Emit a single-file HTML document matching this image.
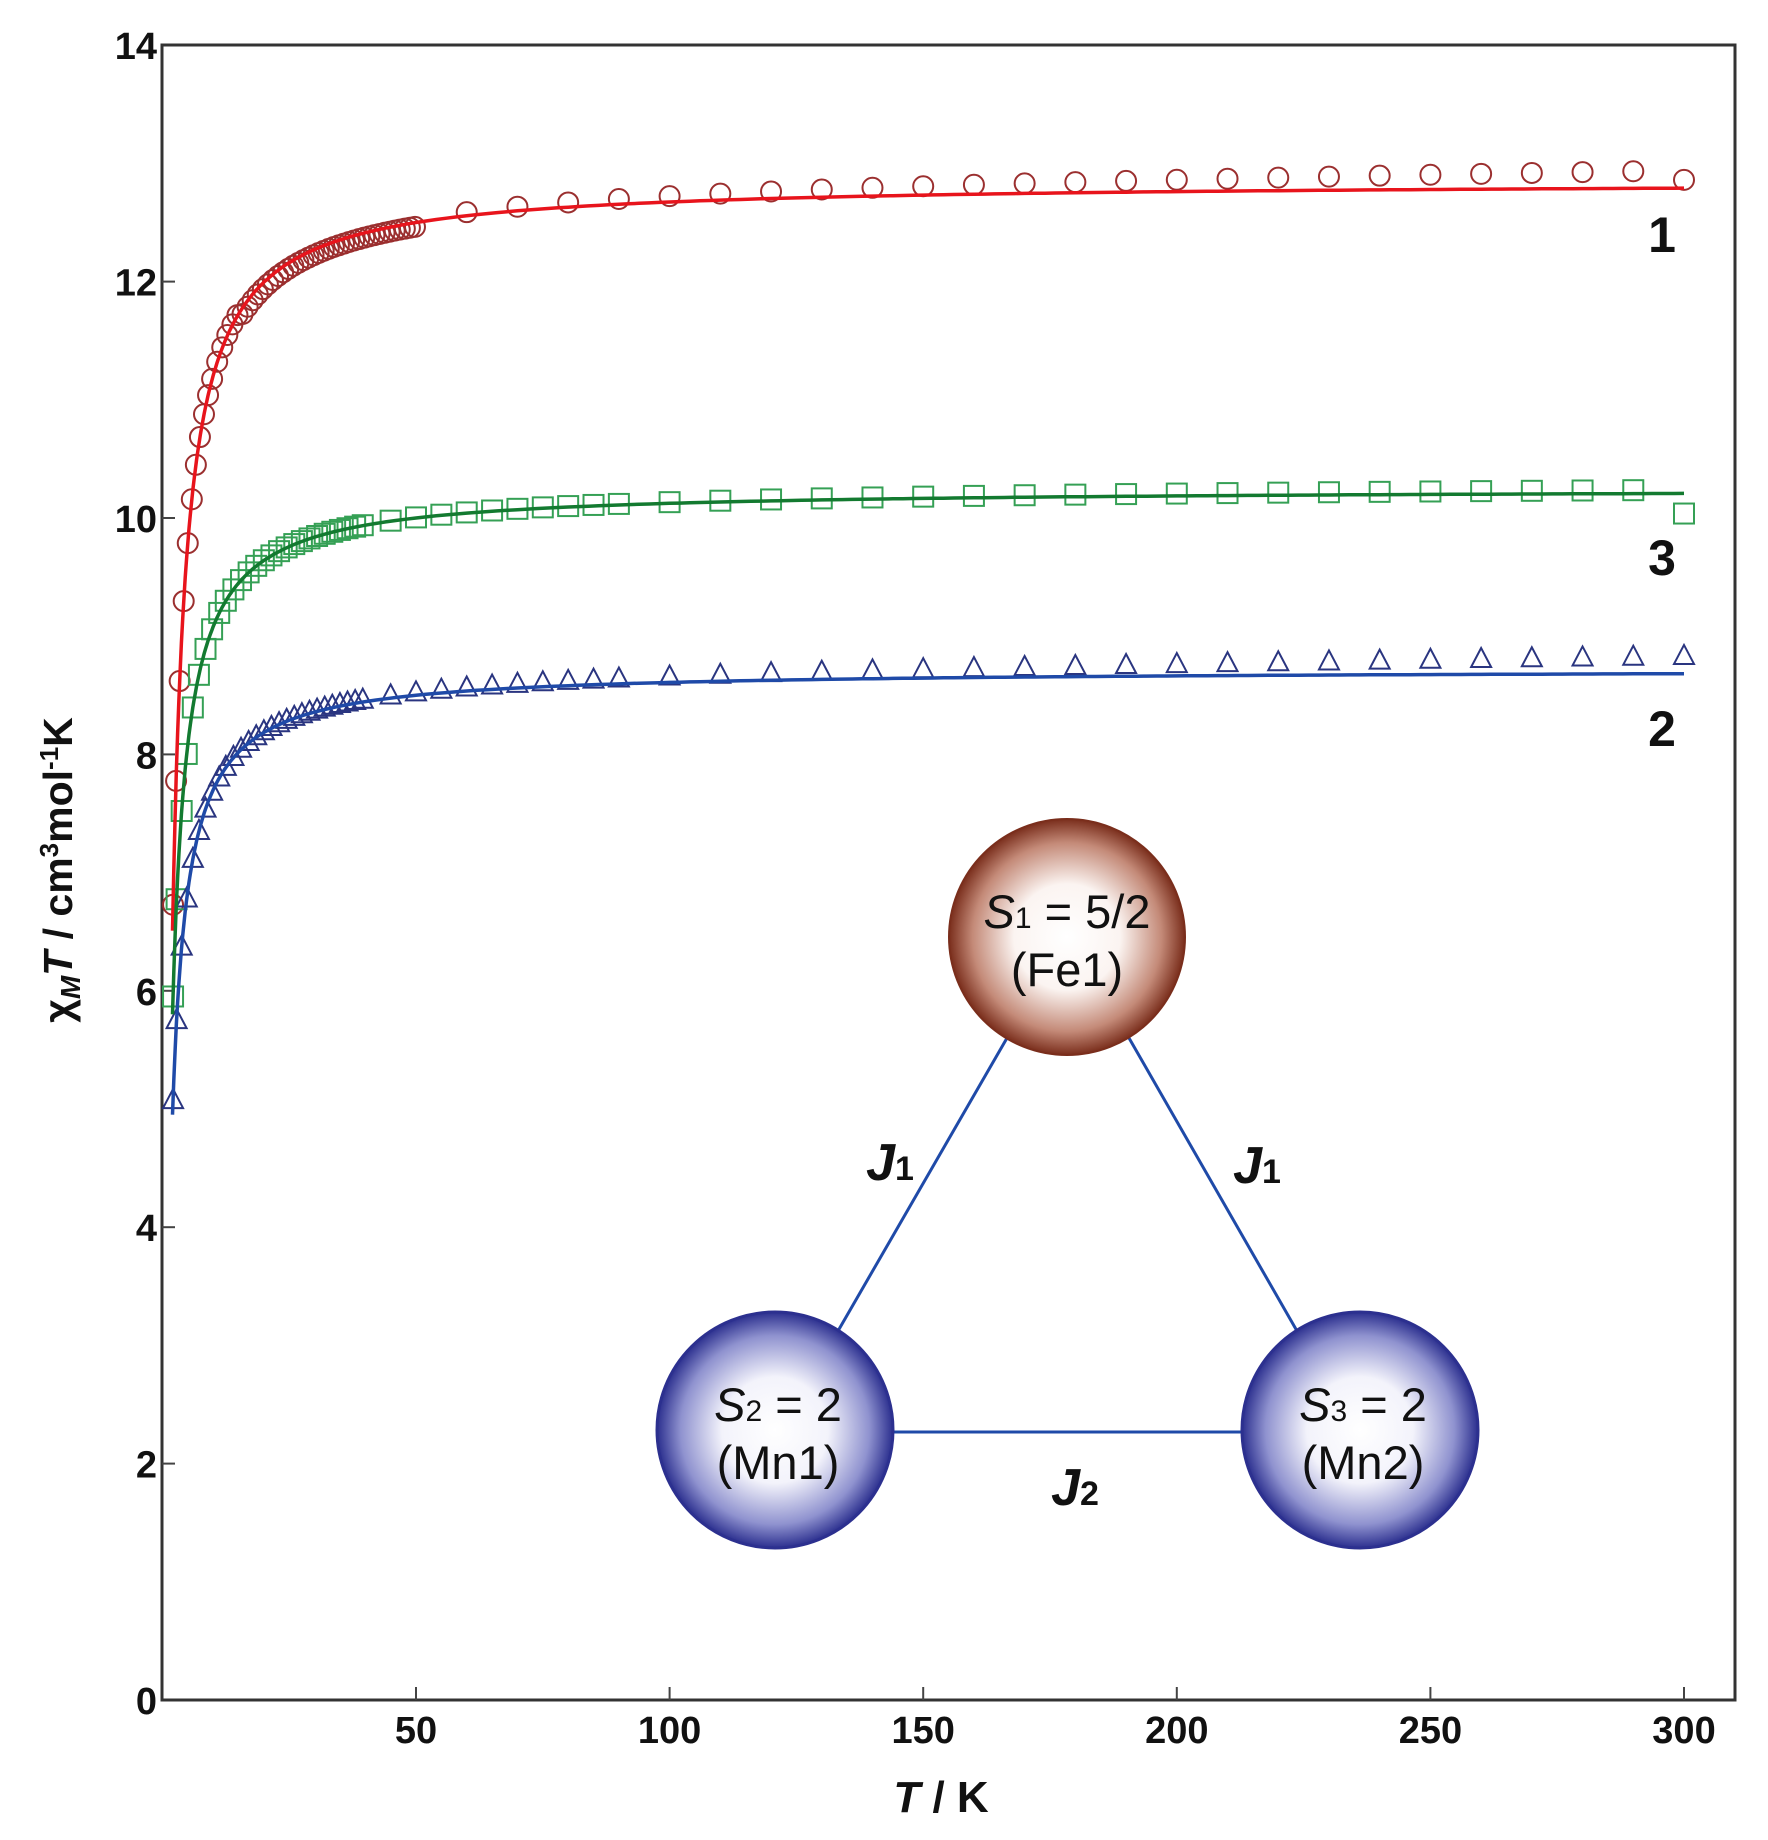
<!DOCTYPE html>
<html><head><meta charset="utf-8"><style>
html,body{margin:0;padding:0;background:#fff;}
svg{display:block;font-family:"Liberation Sans",Arial,sans-serif;}
</style></head><body>
<svg id="s" width="1768" height="1840" viewBox="0 0 1768 1840" xmlns="http://www.w3.org/2000/svg">
<defs>
<radialGradient id="gFe" cx="50%" cy="50%" r="50%">
<stop offset="0" stop-color="#fff"/><stop offset="0.45" stop-color="#fbf4f1"/><stop offset="0.8" stop-color="#c48a78"/><stop offset="1" stop-color="#7a2e1c"/>
</radialGradient>
<radialGradient id="gMn" cx="50%" cy="50%" r="50%">
<stop offset="0" stop-color="#fff"/><stop offset="0.45" stop-color="#f3f3fb"/><stop offset="0.8" stop-color="#8f92cf"/><stop offset="1" stop-color="#2c308f"/>
</radialGradient>
</defs>
<rect x="162" y="45" width="1573" height="1655" fill="none" stroke="#333" stroke-width="3"/>
<g id="ticks" stroke="#444" stroke-width="2"></g>
<g id="labels" font-weight="bold" font-size="38" fill="#111"></g>
<g id="data"></g>
<!-- inset -->
<g stroke="#1f4aa8" stroke-width="3">
<line x1="1007" y1="1038" x2="838" y2="1331"/>
<line x1="1129" y1="1038" x2="1297" y2="1331"/>
<line x1="893" y1="1432" x2="1242" y2="1432"/>
</g>
<circle cx="1067" cy="937" r="118" fill="url(#gFe)" stroke="#7a2e1c" stroke-width="2"/>
<circle cx="775" cy="1430" r="118" fill="url(#gMn)" stroke="#2c308f" stroke-width="3"/>
<circle cx="1360" cy="1430" r="118" fill="url(#gMn)" stroke="#2c308f" stroke-width="3"/>
<g font-size="47" fill="#111" text-anchor="middle">
<text x="1067" y="928"><tspan font-style="italic">S</tspan><tspan font-size="30">1</tspan> = 5/2</text>
<text x="1067" y="986">(Fe1)</text>
<text x="778" y="1421"><tspan font-style="italic">S</tspan><tspan font-size="30">2</tspan> = 2</text>
<text x="778" y="1479">(Mn1)</text>
<text x="1363" y="1421"><tspan font-style="italic">S</tspan><tspan font-size="30">3</tspan> = 2</text>
<text x="1363" y="1479">(Mn2)</text>
</g>
<g font-size="52" font-weight="bold" fill="#111" text-anchor="middle">
<text x="890" y="1180" font-style="italic">J<tspan font-style="normal" font-size="34">1</tspan></text>
<text x="1257" y="1183" font-style="italic">J<tspan font-style="normal" font-size="34">1</tspan></text>
<text x="1075" y="1505" font-style="italic">J<tspan font-style="normal" font-size="34">2</tspan></text>
</g>
<g font-size="50" font-weight="bold" fill="#111" text-anchor="middle">
<text x="1662" y="252">1</text>
<text x="1662" y="575">3</text>
<text x="1662" y="746">2</text>
</g>
<text x="941" y="1812" text-anchor="middle" font-size="44" font-weight="bold" fill="#111"><tspan font-style="italic">T</tspan> / K</text>
<text transform="translate(72,870) rotate(-90)" text-anchor="middle" font-size="41" font-weight="bold" fill="#111">χ<tspan font-style="italic" font-size="28" dy="8">M</tspan><tspan font-style="italic" dy="-8">T</tspan> / cm<tspan font-size="26" dy="-14">3</tspan><tspan dy="14">mol</tspan><tspan font-size="26" dy="-14">-1</tspan><tspan dy="14">K</tspan></text>
</svg>
<script>
var NS="http://www.w3.org/2000/svg";
function X(T){return 162.4+5.072*T;}
function Y(v){return 1700-118.2*v;}
function el(p,tag,a,txt){var e=document.createElementNS(NS,tag);for(var k in a)e.setAttribute(k,a[k]);if(txt!==undefined)e.textContent=txt;p.appendChild(e);return e;}
var tk=document.getElementById('ticks'),lb=document.getElementById('labels'),dg=document.getElementById('data');
for(var v=2;v<=12;v+=2){el(tk,'line',{x1:162,y1:Y(v),x2:175,y2:Y(v)});}
for(var v=0;v<=14;v+=2){el(lb,'text',{x:157,y:Y(v)+14,'text-anchor':'end'},String(v));}
for(var T=50;T<=300;T+=50){el(tk,'line',{x1:X(T),y1:1700,x2:X(T),y2:1687});el(lb,'text',{x:X(T),y:1743,'text-anchor':'middle'},String(T));}
var S=[
 {A:12.85,k:17.8,c:0.807,line:'#e8141c',mk:'#9b2f2f',type:'c',off:0.0005,last:-0.08},
 {A:10.25,k:12.71,c:0.857,line:'#137a30',mk:'#35a055',type:'s',off:0.0001,last:-0.2},
 {A:8.72,k:11.21,c:0.975,line:'#1f4aa8',mk:'#2a3580',type:'t',off:0.0005,last:0}
];
S.forEach(function(s){
 var f=function(T){return s.A-s.k/(T+s.c);};
 var d='';for(var T=2;T<=300;T+=(T<20?0.25:2)){d+=(d?'L':'M')+X(T).toFixed(1)+','+Y(f(T)).toFixed(1);}
 var Ts=[];
 if(s.type=='c'){Ts=[2.1,2.7,3.4,4.2,5,5.8,6.6,7.4,8.2,9,9.8];for(var t=10.8;t<=50;t+=1)Ts.push(t);for(var t=60;t<=300;t+=10)Ts.push(t);}
 else{Ts=[2.1,2.8,3.8,4.8,6,7.2,8.5,9.8,11.2];for(var t=12.5;t<=40;t+=1.5)Ts.push(t);for(var t=45;t<=90;t+=5)Ts.push(t);for(var t=100;t<=300;t+=10)Ts.push(t);}
 Ts.forEach(function(T,i){
  var v=f(T)+s.off*T; if(s.type=='c'&&T>15&&T<=50)v-=0.06; if(i==Ts.length-1)v+=s.last;
  var x=X(T),y=Y(v);
  if(s.type=='c')el(dg,'circle',{cx:x,cy:y,r:10,fill:'none',stroke:s.mk,'stroke-width':2});
  else if(s.type=='s')el(dg,'rect',{x:x-10,y:y-10,width:20,height:20,fill:'none',stroke:s.mk,'stroke-width':2});
  else el(dg,'polygon',{points:(x)+','+(y-11)+' '+(x-10)+','+(y+8)+' '+(x+10)+','+(y+8),fill:'none',stroke:s.mk,'stroke-width':2});
 });
 s.d=d;
});
S.forEach(function(s){el(dg,'path',{d:s.d,fill:'none',stroke:s.line,'stroke-width':3.5});});
</script>
</body></html>
